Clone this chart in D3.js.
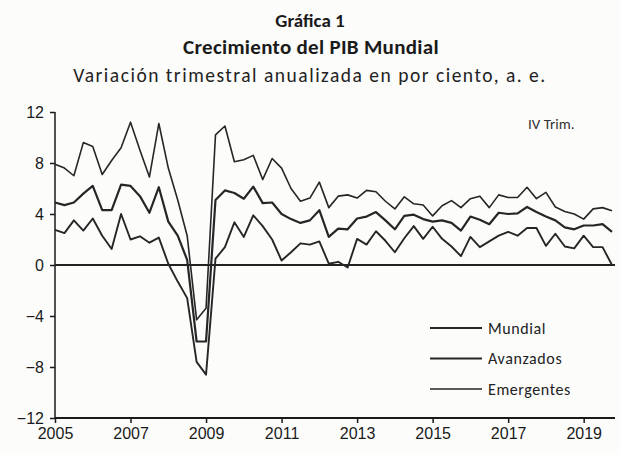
<!DOCTYPE html>
<html>
<head>
<meta charset="utf-8">
<script src="https://cdn.jsdelivr.net/npm/d3@7"></script>
<style>
  body { margin: 0; background: #fcfcfb; }
  svg { font-family: Carlito, Lato, "Open Sans", sans-serif; }
  .title { font-weight: bold; fill: #1a1a1a; }
  .axis text { font-size: 16px; fill: #1a1a1a; }
  .axis path, .axis line { stroke: #1a1a1a; stroke-width: 1.5; }
</style>
</head>
<body>
<div id="graph"></div>
<script>
//----------------------------------------------------------
// data, quarterly from 2005 I to 2019 IV
var g_start_year = 2005;
var g_tick_years = [2005, 2007, 2009, 2011, 2013, 2015, 2017, 2019];
var g_y_ticks = [-12, -8, -4, 0, 4, 8, 12];

var g_mundial = [
    4.9, 4.7, 4.9, 5.6, 6.2, 4.3, 4.3, 6.3, 6.2, 5.4, 4.1, 6.1,
    3.4, 2.3, 0.4, -6.0, -6.0,
    5.1, 5.85, 5.65, 5.2, 6.15, 4.85, 4.9, 4.0, 3.6, 3.3, 3.5, 4.3, 2.2, 2.85, 2.8,
    3.65, 3.8, 4.15, 3.5, 2.8, 3.85, 3.95,
    3.6, 3.4, 3.5, 3.3, 2.7, 3.8, 3.55, 3.2, 4.1, 4.0, 4.05, 4.55, 4.15, 3.8, 3.5,
    2.95, 2.8, 3.1, 3.1, 3.2, 2.6
];
var g_avanzados = [
    2.75, 2.5, 3.5, 2.7, 3.65, 2.3, 1.25, 4.0, 2.0, 2.25, 1.75, 2.15,
    0.1, -1.3, -2.6, -7.6, -8.6,
    0.5, 1.4, 3.35, 2.2, 3.9, 3.05, 2.0, 0.35, 1.0, 1.7, 1.6, 1.85, 0.1, 0.25, -0.2,
    2.05, 1.6, 2.65, 1.9, 1.0, 2.1, 3.05,
    2.05, 3.0, 2.05, 1.45, 0.7, 2.2, 1.4, 1.85, 2.3, 2.6, 2.3, 2.9, 2.9, 1.5, 2.45,
    1.45, 1.3, 2.3, 1.4, 1.4, 0.0
];
var g_emergentes = [
    7.9, 7.6, 7.0, 9.6, 9.3, 7.1, 8.2, 9.2, 11.2, 9.0, 6.9, 11.1,
    7.6, 5.1, 2.3, -4.3, -3.4,
    10.2, 10.9, 8.1, 8.25, 8.6, 6.7, 8.35, 7.6, 6.0, 5.0, 5.25, 6.5, 4.5, 5.4, 5.5,
    5.25, 5.85, 5.75, 5.0, 4.4, 5.35, 4.8,
    4.7, 3.85, 4.65, 5.05, 4.5, 5.2, 5.4, 4.5, 5.5, 5.3, 5.3, 6.1, 5.2, 5.7, 4.55,
    4.2, 4.0, 3.6, 4.4, 4.5, 4.25
];

var g_series = [
    { name: "Mundial", values: g_mundial, width: 2.2 },
    { name: "Avanzados", values: g_avanzados, width: 1.9 },
    { name: "Emergentes", values: g_emergentes, width: 1.6 }
];

//----------------------------------------------------------
var g_svg = d3.select("#graph")
  .append("svg")
    .attr("width", 620)
    .attr("height", 455);

var g_x = d3.scaleLinear()
    .domain([0, g_mundial.length - 1])
    .range([55, 612]);

var g_y = d3.scaleLinear()
    .domain([-12, 12])
    .range([418, 112]);


function DrawTitles() {
    g_svg.append("text")
        .attr("class", "title")
        .attr("x", 310).attr("y", 27)
        .attr("text-anchor", "middle")
        .style("font-size", "19px")
        .text("Gráfica 1");

    g_svg.append("text")
        .attr("class", "title")
        .attr("x", 311).attr("y", 54)
        .attr("text-anchor", "middle")
        .style("font-size", "21px")
        .style("letter-spacing", "0.3px")
        .text("Crecimiento del PIB Mundial");

    g_svg.append("text")
        .attr("x", 310).attr("y", 82)
        .attr("text-anchor", "middle")
        .style("font-size", "19.5px")
        .style("letter-spacing", "1.5px")
        .attr("fill", "#222")
        .text("Variación trimestral anualizada en por ciento, a. e.");

    g_svg.append("text")
        .attr("x", 528).attr("y", 129)
        .style("font-size", "15px")
        .attr("fill", "#333")
        .text("IV Trim.");
}


function DrawAxes() {
    g_svg.append("g")
        .attr("class", "axis")
        .attr("transform", "translate(" + g_x(0) + ",0)")
        .call(d3.axisLeft(g_y)
            .tickValues(g_y_ticks)
            .tickSize(5)
            .tickSizeOuter(0)
            .tickPadding(6));

    g_svg.append("g")
        .attr("class", "axis")
        .attr("transform", "translate(0," + g_y(-12) + ")")
        .call(d3.axisBottom(g_x)
            .tickValues(g_tick_years.map(function (yr) {
                return (yr - g_start_year) * 4;
            }))
            .tickFormat(function (d) {
                return String(g_start_year + d / 4);
            })
            .tickSize(5)
            .tickSizeOuter(0)
            .tickPadding(5));

    // stretch the baseline a little past the last quarter
    g_svg.selectAll(".axis path.domain").remove();
    g_svg.append("line")
        .attr("x1", g_x(0)).attr("x2", 615)
        .attr("y1", g_y(-12)).attr("y2", g_y(-12))
        .attr("stroke", "#1a1a1a").attr("stroke-width", 1.8);
    g_svg.append("line")
        .attr("x1", g_x(0)).attr("x2", g_x(0))
        .attr("y1", g_y(12)).attr("y2", g_y(-12))
        .attr("stroke", "#1a1a1a").attr("stroke-width", 1.5);

    // zero line
    g_svg.append("line")
        .attr("x1", g_x(0)).attr("x2", 615)
        .attr("y1", g_y(0)).attr("y2", g_y(0))
        .attr("stroke", "#222").attr("stroke-width", 2);
}


function DrawLines() {
    const line = d3.line()
        .x(function (d, i) { return g_x(i); })
        .y(function (d) { return g_y(d); });

    g_svg.append("g")
      .selectAll("path")
      .data(g_series)
      .join("path")
        .attr("fill", "none")
        .attr("stroke", "#262626")
        .attr("stroke-linejoin", "round")
        .attr("stroke-width", function (s) { return s.width; })
        .attr("d", function (s) { return line(s.values); });
}


function DrawLegend() {
    const rows = g_svg.append("g")
      .selectAll("g")
      .data(g_series)
      .join("g")
        .attr("transform", function (s, i) {
            return "translate(430," + (328 + i * 30.5) + ")";
        });

    rows.append("line")
        .attr("x1", 0).attr("x2", 52)
        .attr("stroke", "#262626")
        .attr("stroke-width", function (s) { return s.width; });

    rows.append("text")
        .attr("x", 58).attr("dy", "0.35em")
        .style("font-size", "16px")
        .style("letter-spacing", "0.6px")
        .attr("fill", "#222")
        .text(function (s) { return s.name; });
}

DrawTitles();
DrawAxes();
DrawLines();
DrawLegend();
</script>
</body>
</html>
